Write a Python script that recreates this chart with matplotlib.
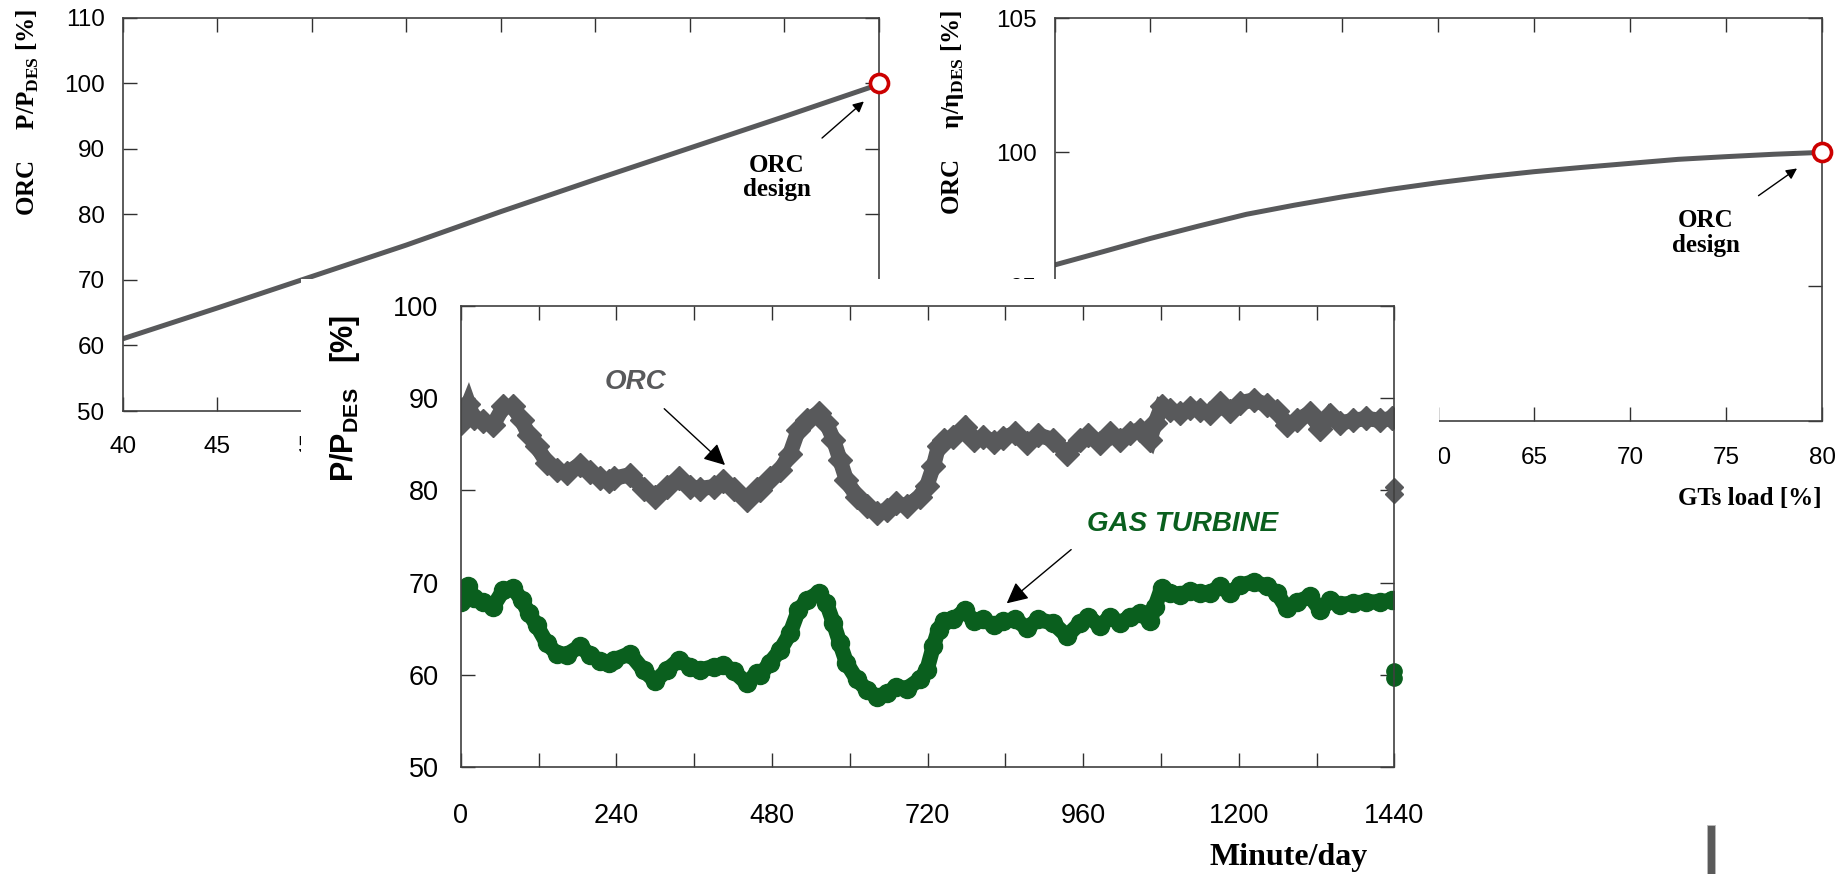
import numpy as np
import matplotlib
matplotlib.use("Agg")
import matplotlib.pyplot as plt
from matplotlib.patches import Rectangle

plt.rcParams['font.family'] = ['Liberation Sans', 'DejaVu Sans']
plt.rcParams['mathtext.fontset'] = 'custom'
plt.rcParams['mathtext.rm'] = 'Liberation Serif:bold'
plt.rcParams['mathtext.bf'] = 'Liberation Serif:bold'
plt.rcParams['mathtext.sf'] = 'Liberation Sans:bold'

# ---- data ----
gt_load = [40, 45, 50, 55, 60, 65, 70, 75, 80]
orc_power = [61.0, 65.7, 70.5, 75.3, 80.4, 85.3, 90.1, 94.9, 99.8]
gt_load_eff = [40, 42.5, 45, 47.5, 50, 52.5, 55, 57.5, 60, 62.5, 65, 67.5, 70, 72.5,
               75, 77.5, 80]
orc_eff = [95.8, 96.29, 96.79, 97.25, 97.69, 98.03, 98.34, 98.62, 98.87, 99.09, 99.28,
           99.44, 99.59, 99.74, 99.84, 99.93, 100.0]
design_load = 80
design_val = 100

minute = [0, 12, 20, 35, 50, 66, 81, 94, 105, 117, 133, 148, 164, 184, 199, 215, 228,
          236, 261, 282, 300, 318, 336, 354, 369, 390, 405, 421, 441, 457, 462, 477,
          493, 508, 521, 534, 552, 564, 575, 585, 595, 611, 626, 642, 657, 672, 688,
          708, 719, 729, 737, 745, 760, 778, 791, 806, 822, 837, 855, 873, 891, 914,
          935, 955, 968, 986, 1002, 1017, 1032, 1048, 1063, 1071, 1081, 1094, 1110,
          1125, 1140, 1156, 1171, 1187, 1202, 1223, 1243, 1259, 1274, 1290, 1310,
          1326, 1341, 1356, 1377, 1397, 1418, 1436]
orc_day = [87.3, 89.4, 87.8, 87.5, 87.1, 89.1, 89.1, 87.6, 86.0, 84.8, 83.0, 82.2, 81.9,
           82.8, 82.0, 81.3, 81.0, 81.3, 81.7, 80.2, 79.3, 80.4, 81.3, 80.4, 80.2, 80.4,
           81.0, 80.1, 79.0, 80.1, 80.0, 81.3, 82.2, 84.0, 86.6, 87.6, 88.4, 87.3, 85.5,
           83.3, 81.1, 79.3, 78.3, 77.5, 77.9, 78.6, 78.3, 79.3, 80.5, 82.6, 84.8, 85.5,
           85.8, 86.9, 85.5, 85.8, 85.3, 85.7, 86.2, 85.1, 86.0, 85.5, 84.0, 85.5, 86.0,
           85.1, 86.2, 85.5, 86.2, 86.6, 85.5, 87.3, 89.1, 88.7, 88.4, 88.9, 88.7, 88.4,
           89.5, 88.6, 89.5, 89.8, 89.3, 88.6, 87.1, 87.6, 88.4, 86.7, 88.2, 87.3, 87.6,
           87.8, 87.6, 87.8]
gt_day = [67.9, 69.6, 68.3, 67.9, 67.4, 69.2, 69.4, 68.1, 66.7, 65.4, 63.4, 62.3, 62.2,
          63.1, 62.2, 61.5, 61.3, 61.6, 62.3, 60.5, 59.3, 60.5, 61.6, 60.9, 60.5, 60.9,
          61.1, 60.4, 59.1, 60.2, 60.0, 61.3, 62.7, 64.5, 67.0, 68.1, 68.9, 67.8, 65.6,
          63.4, 61.3, 59.5, 58.4, 57.6, 58.0, 58.7, 58.5, 59.5, 60.5, 63.1, 64.9, 65.8,
          66.0, 67.0, 65.8, 66.0, 65.4, 65.8, 66.0, 65.1, 66.0, 65.6, 64.2, 65.6, 66.3,
          65.3, 66.3, 65.6, 66.3, 66.7, 65.8, 67.4, 69.4, 68.9, 68.7, 69.1, 68.9, 68.9,
          69.6, 68.9, 69.7, 70.1, 69.6, 68.9, 67.2, 67.9, 68.5, 67.0, 68.1, 67.6, 67.8,
          67.9, 67.9, 68.1]
end_minute = [1440, 1440]
orc_end = [80.4, 79.6]
gt_end = [60.4, 59.6]

GRAY = '#58595b'
GREEN = '#0a5f1e'
RED = '#cc0000'
W, H = 1847, 874

def rect(x0, y0, x1, y1):
    return [x0 / W, 1 - y1 / H, (x1 - x0) / W, (y1 - y0) / H]

def style(ax, size, pad_x, pad_y):
    for s in ax.spines.values():
        s.set_color('#404040')
        s.set_linewidth(1.2)
    ax.tick_params(direction='in', top=True, right=True, length=10, width=1,
                   labelsize=size, color='#303030')
    ax.tick_params(axis='x', pad=pad_x)
    ax.tick_params(axis='y', pad=pad_y)

fig = plt.figure(figsize=(W / 100, H / 100), dpi=100)

# top-left: ORC power vs GT load
ax1 = fig.add_axes(rect(122.6, 17.5, 879, 411), zorder=0)
ax1.plot(gt_load, orc_power, color=GRAY, lw=3.6, solid_capstyle='butt')
ax1.plot([design_load], [design_val], 'o', ms=13, mfc='white', mec=RED, mew=2.6,
         clip_on=False, zorder=5)
ax1.set_xlim(40, 80)
ax1.set_ylim(50, 110)
ax1.set_xticks(range(40, 81, 5))
ax1.set_yticks(range(50, 111, 10))
style(ax1, 17.5, 18, 13)
ax1.annotate('ORC\ndesign', xy=(79.2, 97.2), xytext=(74.6, 85.6),
             ha='center', va='center', family='Liberation Serif', weight='bold',
             fontsize=18, linespacing=1.1,
             arrowprops=dict(arrowstyle='-|>', color='black', lw=1, mutation_scale=16,
                             shrinkA=14, shrinkB=0))
fig.text(28 / W, 1 - 112 / H, r'ORC     P/P$_{\mathbf{DES}}$ [%]', rotation=90,
         family='Liberation Serif', weight='bold', fontsize=18,
         ha='center', va='center')

# top-right: ORC efficiency vs GT load
ax2 = fig.add_axes(rect(1054.5, 18.3, 1822, 420.5), zorder=0)
ax2.plot(gt_load_eff, orc_eff, color=GRAY, lw=3.6)
ax2.plot([design_load], [design_val], 'o', ms=13, mfc='white', mec=RED, mew=2.6,
         clip_on=False, zorder=5)
ax2.set_xlim(40, 80)
ax2.set_ylim(90, 105)
ax2.set_xticks(range(40, 81, 5))
ax2.set_yticks(range(90, 106, 5))
style(ax2, 17.5, 19, 13)
ax2.annotate('ORC\ndesign', xy=(78.7, 99.4), xytext=(73.95, 97.0),
             ha='center', va='center', family='Liberation Serif', weight='bold',
             fontsize=18, linespacing=1.1,
             arrowprops=dict(arrowstyle='-|>', color='black', lw=1, mutation_scale=16,
                             shrinkA=14, shrinkB=0))
fig.text(952 / W, 1 - 112 / H, r'ORC     η/η$_{\mathbf{DES}}$ [%]', rotation=90,
         family='Liberation Serif', weight='bold', fontsize=18,
         ha='center', va='center')
fig.text(1822 / W, 1 - 498 / H, 'GTs load [%]', family='Liberation Serif',
         weight='bold', fontsize=18, ha='right', va='center')

# white panel under the inset
fig.patches.append(Rectangle((301 / W, 0), (1439 - 301) / W, (H - 279) / H,
                             transform=fig.transFigure, facecolor='white',
                             edgecolor='none', zorder=1))

# inset: daily profile
ax3 = fig.add_axes(rect(460.7, 306, 1394.3, 767), zorder=2)
ax3.plot(minute, gt_day, color=GREEN, lw=11, marker='o', ms=13, mec=GREEN,
         solid_joinstyle='round', solid_capstyle='round')
ax3.plot(minute, orc_day, color=GRAY, lw=11, marker='D', ms=12, mec=GRAY,
         solid_joinstyle='miter', solid_capstyle='butt')
ax3.plot(end_minute, gt_end, 'o', color=GREEN, ms=11, clip_on=False)
ax3.plot(end_minute, orc_end, 'D', color=GRAY, ms=9, clip_on=False)
ax3.set_xlim(0, 1440)
ax3.set_ylim(50, 100)
ticks = list(range(0, 1441, 120))
ax3.set_xticks(ticks)
ax3.set_xticklabels([str(t) if t % 240 == 0 else '' for t in ticks])
ax3.set_yticks(range(50, 101, 10))
style(ax3, 19.5, 26, 16)
ax3.annotate('ORC', xy=(407.7, 82.75), xytext=(268.8, 91.8), color=GRAY,
             fontsize=20, weight='bold', style='italic', ha='center', va='center',
             arrowprops=dict(arrowstyle='-|>', color='black', lw=1, mutation_scale=32,
                             shrinkA=12, shrinkB=0))
ax3.annotate('GAS TURBINE', xy=(842.2, 67.75), xytext=(1113, 76.4), color=GREEN,
             fontsize=20, weight='bold', style='italic', ha='center', va='center',
             arrowprops=dict(arrowstyle='-|>', color='black', lw=1, mutation_scale=32,
                             shrinkA=12, shrinkB=0, relpos=(0.0, 0.0)))
fig.text(345 / W, 1 - 398 / H, r'P/P$_{\mathsf{DES}}$   [%]', rotation=90,
         weight='bold', fontsize=22, ha='center', va='center')
fig.text(1289 / W, 1 - 858 / H, 'Minute/day', family='Liberation Serif',
         weight='bold', fontsize=23, ha='center', va='center')

# stray bar at bottom right
fig.patches.append(Rectangle((1707 / W, 0), 8 / W, 49 / H, transform=fig.transFigure,
                             facecolor='#5a5a5a', edgecolor='#bbbbbb', lw=0.6, zorder=3))

fig.savefig('out.png', dpi=100)
